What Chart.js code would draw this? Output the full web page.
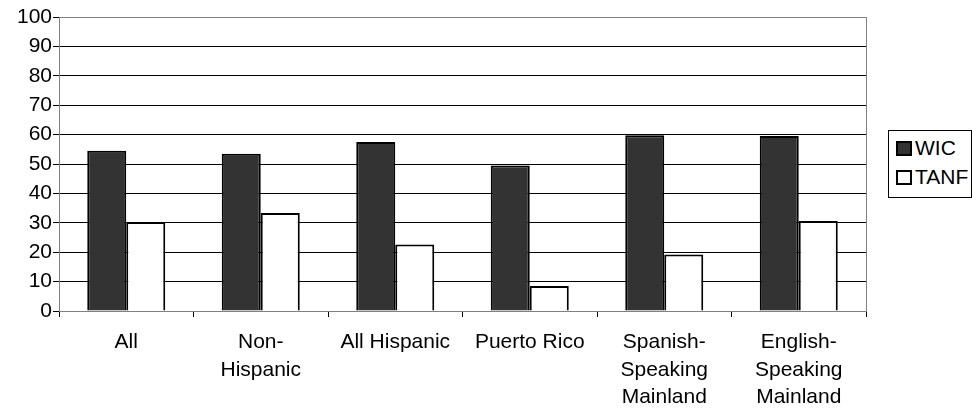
<!DOCTYPE html>
<html>
<head>
<meta charset="utf-8">
<script src="https://cdn.jsdelivr.net/npm/chart.js@4"></script>
<style>
html,body{margin:0;padding:0;background:#fff;}
#wrap{position:relative;width:972px;height:409px;overflow:hidden;}
#legend{position:absolute;left:888px;top:130px;width:84px;height:68px;box-sizing:border-box;border:1px solid #000;background:#fff;font-family:"Liberation Sans",Arial,sans-serif;font-size:21px;color:#000;}
.item{position:absolute;left:7px;height:24px;line-height:24px;white-space:nowrap;}
.sw{display:inline-block;width:12px;height:11px;border:2px solid #000;vertical-align:top;margin-top:5px;margin-right:3px;}
</style>
</head>
<body>
<div id="wrap">
<canvas id="c" width="972" height="409"></canvas>
<div id="legend">
  <div class="item" style="top:5px"><span class="sw" style="background:#333333"></span>WIC</div>
  <div class="item" style="top:34px"><span class="sw" style="background:#ffffff"></span>TANF</div>
</div>
</div>
<script>
const categories = ["All", ["Non-","Hispanic"], "All Hispanic", "Puerto Rico", ["Spanish-","Speaking","Mainland"], ["English-","Speaking","Mainland"]];
const wicValues = [54.5, 53.5, 57.5, 49.5, 59.8, 59.5];
const tanfValues = [30.3, 33.3, 22.6, 8.5, 19.2, 30.6];
const yTicks = [0,10,20,30,40,50,60,70,80,90,100];

const borderPlugin = {
  id: 'plotBorder',
  afterDatasetsDraw(chart) {
    const a = chart.chartArea, ctx = chart.ctx;
    ctx.save();
    ctx.strokeStyle = '#808080';
    ctx.lineWidth = 1;
    ctx.beginPath();
    ctx.moveTo(a.left, a.top + 0.5);
    ctx.lineTo(a.right + 0.5, a.top + 0.5);
    ctx.lineTo(a.right + 0.5, a.bottom);
    ctx.stroke();
    ctx.restore();
  }
};

new Chart(document.getElementById('c'), {
  type: 'bar',
  data: {
    labels: categories,
    datasets: [
      { label: 'WIC', data: wicValues, backgroundColor: '#333333', borderColor: '#000000', borderWidth: 2, categoryPercentage: 0.58, barPercentage: 1.0 },
      { label: 'TANF', data: tanfValues, backgroundColor: '#ffffff', borderColor: '#000000', borderWidth: 2, categoryPercentage: 0.58, barPercentage: 1.0 }
    ]
  },
  options: {
    responsive: false,
    animation: false,
    devicePixelRatio: 1,
    layout: { padding: { top: 17, right: 106, left: 0, bottom: 0 } },
    plugins: { legend: { display: false }, tooltip: { enabled: false } },
    scales: {
      x: {
        offset: true,
        grid: { offset: true, drawOnChartArea: false, drawTicks: true, tickLength: 6, color: '#000000' },
        border: { color: '#808080', width: 1 },
        ticks: { color: '#000', font: { family: '"Liberation Sans", Arial, sans-serif', size: 21, lineHeight: 1.3 }, padding: 12, maxRotation: 0, autoSkip: false },
        afterFit(s) { s.height = 98; }
      },
      y: {
        min: 0, max: 100,
        afterBuildTicks(s) { s.ticks = yTicks.map(v => ({ value: v })); },
        grid: { color: ctx => (ctx.tick && ctx.tick.value === 100) ? '#808080' : '#000000', lineWidth: 1, tickLength: 6, tickColor: '#000000' },
        border: { color: '#808080', width: 1 },
        ticks: { color: '#000', font: { family: '"Liberation Sans", Arial, sans-serif', size: 21 }, padding: 1 },
        afterFit(s) { s.width = 59; }
      }
    }
  },
  plugins: [borderPlugin]
});
</script>
</body>
</html>
